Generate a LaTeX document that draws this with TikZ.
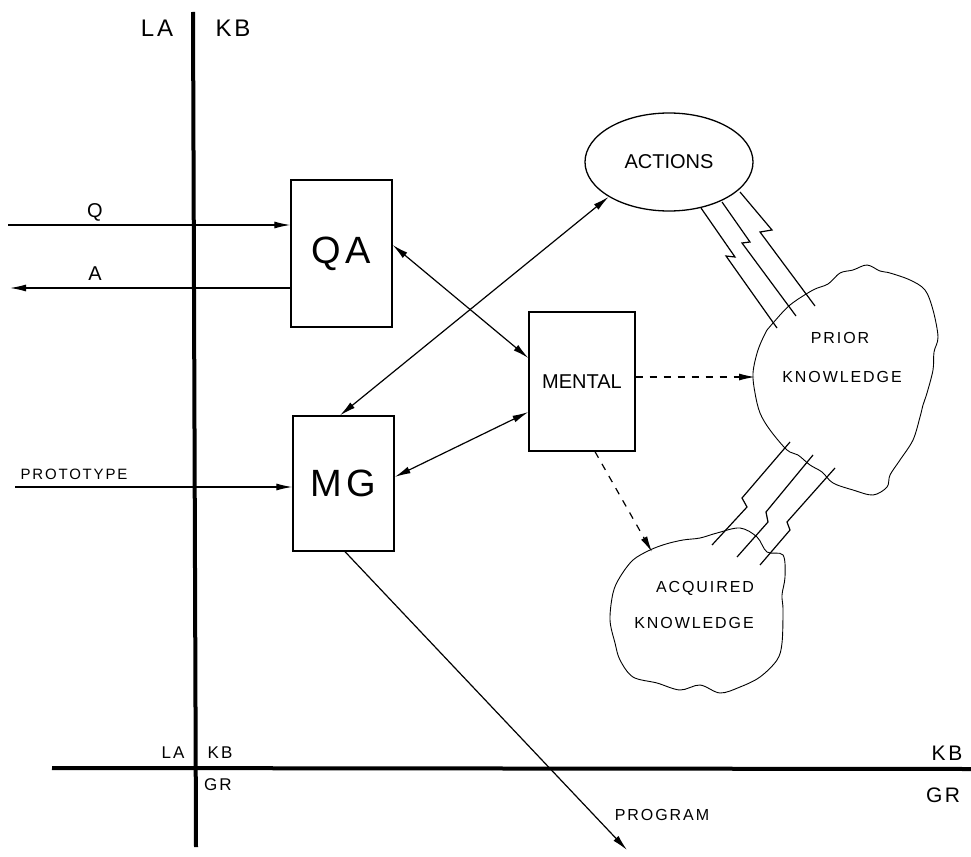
\documentclass[tikz,border=0pt]{standalone}
\usepackage{fontspec}
\setmainfont{Liberation Sans}
\newfontfamily\hand[LetterSpace=12]{Liberation Sans}
\usetikzlibrary{arrows.meta,shapes.geometric}
\begin{document}
\begin{tikzpicture}[x=1pt,y=-1pt,
  axisline/.style={line width=4pt},
  blockbox/.style={draw,line width=1.3pt,inner sep=0pt},
  conn/.style={line width=1.2pt},
  arr/.style={conn,-{Latex[length=16pt,width=7pt]}},
  darr/.style={conn,{Latex[length=16pt,width=7pt]}-{Latex[length=16pt,width=7pt]}},
  dasharr/.style={conn,dash pattern=on 7pt off 7pt,-{Latex[length=16pt,width=7pt]}},
  cloudline/.style={line width=0.9pt},
  zig/.style={line width=1.2pt,line join=miter},
  lbl/.style={inner sep=0pt,font=\hand}
]
\useasboundingbox (0,0) rectangle (971,856);
% axes
\draw[axisline] (193,12) -- (196,847);
\draw[axisline] (52,768) -- (971,769);
% axis labels
\node[lbl,font=\hand\fontsize{24}{24}\selectfont] (tla) at (157,28) {LA};
\node[lbl,font=\hand\fontsize{24}{24}\selectfont] (tkb) at (233,28) {KB};
\node[lbl,font=\hand\fontsize{17}{17}\selectfont] (bla) at (173,753) {LA};
\node[lbl,font=\hand\fontsize{17}{17}\selectfont] (bkb) at (220,753) {KB};
\node[lbl,font=\hand\fontsize{17}{17}\selectfont] (bgr) at (218,785) {GR};
\node[lbl,font=\hand\fontsize{21}{21}\selectfont] (rkb) at (947,753) {KB};
\node[lbl,font=\hand\fontsize{21}{21}\selectfont] (rgr) at (943,795) {GR};
% boxes
\node[blockbox,minimum width=101pt,minimum height=147pt,font=\hand\fontsize{38}{38}\selectfont] (qa) at (341.5,253.5) {QA};
\node[blockbox,minimum width=101pt,minimum height=135pt,font=\hand\fontsize{38}{38}\selectfont] (mg) at (343.5,483.5) {MG};
\node[blockbox,minimum width=106pt,minimum height=139pt,font=\fontsize{20}{20}\selectfont] (mental) at (582,381.5) {MENTAL};
\node[draw,ellipse,line width=1.3pt,minimum width=168pt,minimum height=98pt,inner sep=0pt,font=\fontsize{20}{20}\selectfont] (actions) at (669,162) {ACTIONS};
% clouds
\draw[cloudline] plot[smooth cycle,tension=0.55] coordinates {(773,323) (790,305) (813,290) (828,284) (840,273) (853,270) (867,265) (880,271) (890,273) (910,280) (925,290) (933,310) (938,337) (934,352) (933,370) (927,393) (923,405) (920,417) (913,440) (900,460) (890,475) (887,487) (873,495) (853,490) (833,483) (822,472) (810,465) (798,455) (787,450) (770,430) (760,413) (755,393) (753,373) (758,350) (767,330)};
\draw[cloudline] plot[smooth cycle,tension=0.55] coordinates {(650,550) (666,544) (683,540) (700,538) (717,533) (740,528) (757,537) (767,552) (783,555) (785,577) (782,595) (783,610) (782,643) (777,660) (760,677) (740,687) (720,693) (700,685) (680,690) (657,683) (633,677) (620,660) (615,643) (610,620) (613,593) (620,577) (633,560)};
\node[lbl,font=\hand\fontsize{16}{16}\selectfont] (prior1) at (840,338) {PRIOR};
\node[lbl,font=\hand\fontsize{16}{16}\selectfont] (prior2) at (842,377) {KNOWLEDGE};
\node[lbl,font=\hand\fontsize{16}{16}\selectfont] (acq1) at (705,588) {ACQUIRED};
\node[lbl,font=\hand\fontsize{16}{16}\selectfont] (acq2) at (694,623) {KNOWLEDGE};
% free ends
\coordinate (qstart) at (8,225);
\coordinate (aend) at (10,288);
\coordinate (pstart) at (15,487);
\coordinate (progend) at (627,850);
\coordinate (priorleft) at (755,377);
\coordinate (acqtop) at (652,552);
% input/output arrows
\draw[arr] (qstart) -- (qa.west |- qstart);
\draw[arr] (qa.west |- aend) -- (aend);
\draw[arr] (pstart) -- (mg.west |- pstart);
\node[lbl,font=\hand\fontsize{20}{20}\selectfont] (qlbl) at (95,212) {Q};
\node[lbl,font=\hand\fontsize{20}{20}\selectfont] (albl) at (95,274) {A};
\node[lbl,font=\hand\fontsize{15}{15}\selectfont] (plbl) at (74,474) {PROTOTYPE};
% internal arrows
\draw[darr] (qa.east |- 0,245) -- (mental.west |- 0,358);
\draw[darr] (mg.east |- 0,477) -- (mental.west |- 0,412);
\draw[darr] (mg.north -| 340,0) -- (actions.210);
\draw[arr] (mg.south -| 345,0) -- (progend);
\node[lbl,font=\hand\fontsize{16}{16}\selectfont] (proglbl) at (662,815) {PROGRAM};
\draw[dasharr] (mental.east |- priorleft) -- (priorleft);
\draw[dasharr] (mental.south -| 595,0) -- (acqtop);
% zigzag links actions - prior
\draw[zig] (701,208) -- (735,257) -- (726,256) -- (777,328);
\draw[zig] (722,202) -- (750,242) -- (742,243) -- (796,316);
\draw[zig] (740,192) -- (772,230) -- (760,232) -- (815,306);
% zigzag links prior - acquired
\draw[zig] (790,442) -- (742,498) -- (747,507) -- (712,545);
\draw[zig] (813,455) -- (766,512) -- (768,522) -- (737,557);
\draw[zig] (835,468) -- (787,522) -- (790,530) -- (760,565);
\end{tikzpicture}
\end{document}
